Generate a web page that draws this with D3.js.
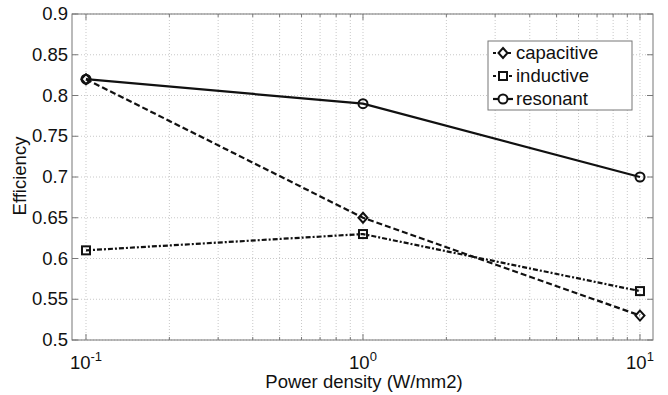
<!DOCTYPE html>
<html><head><meta charset="utf-8">
<script src="https://cdn.jsdelivr.net/npm/d3@7"></script>
<style>body{margin:0;background:#fff}svg{display:block}text{font-family:"Liberation Sans",Arial,sans-serif;fill:#111}</style>
</head><body><svg id="c" width="668" height="395"></svg>
<script>
const xValues = [0.1, 1, 10];
const capacitive = [0.82, 0.65, 0.53];
const inductive = [0.61, 0.63, 0.56];
const resonant = [0.82, 0.79, 0.70];
const yTicks = [0.5, 0.55, 0.6, 0.65, 0.7, 0.75, 0.8, 0.85, 0.9];
const xTickExps = [-1, 0, 1];
const seriesNames = ["capacitive", "inductive", "resonant"];

const svg = d3.select("#c");
const L = 72, R = 653, T = 14, B = 340;
const x = d3.scaleLog().domain([Math.pow(10, -1.0505), Math.pow(10, 1.047)]).range([L, R]);
const y = d3.scaleLinear().domain([0.5, 0.9]).range([B, T]);
const FS = 18.5;

// grid
const minor = [];
for (let e = -1; e <= 1; e++) for (let m = 1; m <= 9; m++) { const v = m * Math.pow(10, e); if (v >= x.domain()[0] && v <= x.domain()[1]) minor.push(v); }
svg.append("g").selectAll("line").data(minor).join("line")
  .attr("x1", d => x(d)).attr("x2", d => x(d)).attr("y1", T).attr("y2", B)
  .attr("stroke", "#c8c8c8").attr("stroke-width", 1).attr("stroke-dasharray", "1,2");
svg.append("g").selectAll("line").data(yTicks).join("line")
  .attr("x1", L).attr("x2", R).attr("y1", d => y(d)).attr("y2", d => y(d))
  .attr("stroke", "#c8c8c8").attr("stroke-width", 1).attr("stroke-dasharray", "1,2");

// frame
svg.append("rect").attr("x", L).attr("y", T).attr("width", R - L).attr("height", B - T)
  .attr("fill", "none").attr("stroke", "#777").attr("stroke-width", 1);

// ticks inward
const tk = svg.append("g").attr("stroke", "#777");
minor.forEach(v => {
  const len = xTickExps.some(e => Math.abs(Math.pow(10, e) - v) < 1e-9) ? 6 : 3;
  tk.append("line").attr("x1", x(v)).attr("x2", x(v)).attr("y1", B).attr("y2", B - len);
  tk.append("line").attr("x1", x(v)).attr("x2", x(v)).attr("y1", T).attr("y2", T + len);
});
yTicks.forEach(v => {
  tk.append("line").attr("x1", L).attr("x2", L + 6).attr("y1", y(v)).attr("y2", y(v));
  tk.append("line").attr("x1", R).attr("x2", R - 6).attr("y1", y(v)).attr("y2", y(v));
});

// y tick labels
svg.append("g").selectAll("text").data(yTicks).join("text")
  .attr("x", L - 4).attr("y", d => y(d) + 6).attr("text-anchor", "end")
  .attr("font-size", FS).text(d => String(d));

// x tick labels
xTickExps.forEach(e => {
  const t = svg.append("text").attr("x", x(Math.pow(10, e))).attr("y", 369)
    .attr("text-anchor", "middle").attr("font-size", FS);
  t.append("tspan").text("10");
  t.append("tspan").attr("dy", -8).attr("font-size", 13).text(String(e));
});

// axis titles
svg.append("text").attr("x", 364).attr("y", 388).attr("text-anchor", "middle").attr("font-size", FS).text("Power density (W/mm2)");
svg.append("text").attr("transform", "translate(26,176) rotate(-90)").attr("text-anchor", "middle").attr("font-size", FS).text("Efficiency");

const styles = [
  { data: capacitive, dash: "6,3", marker: "diamond" },
  { data: inductive, dash: "5,2,2,2", marker: "square" },
  { data: resonant, dash: null, marker: "circle" }
];
function drawMarker(g, type, cx, cy) {
  if (type === "diamond") g.append("path").attr("d", `M${cx},${cy-5}L${cx+4.5},${cy}L${cx},${cy+5}L${cx-4.5},${cy}Z`);
  else if (type === "square") g.append("rect").attr("x", cx - 4).attr("y", cy - 4).attr("width", 8).attr("height", 8);
  else g.append("circle").attr("cx", cx).attr("cy", cy).attr("r", 4.5);
}
const line = d3.line().x((d, i) => x(xValues[i])).y(d => y(d));
styles.forEach(s => {
  svg.append("path").datum(s.data).attr("d", line).attr("fill", "none")
    .attr("stroke", "#111").attr("stroke-width", 2.2).attr("stroke-dasharray", s.dash);
  const g = svg.append("g").attr("fill", "none").attr("stroke", "#111").attr("stroke-width", 2);
  s.data.forEach((d, i) => drawMarker(g, s.marker, x(xValues[i]), y(d)));
});

// legend
const lg = svg.append("g");
lg.append("rect").attr("x", 488).attr("y", 41).attr("width", 144).attr("height", 69)
  .attr("fill", "#fff").attr("stroke", "#777").attr("stroke-width", 1);
styles.forEach((s, i) => {
  const yy = 53 + i * 23;
  lg.append("line").attr("x1", 493).attr("x2", 513).attr("y1", yy).attr("y2", yy)
    .attr("stroke", "#111").attr("stroke-width", 2.2).attr("stroke-dasharray", s.dash ? (i === 0 ? "3,2" : "3,2,1,2") : null);
  const g = lg.append("g").attr("fill", "#fff").attr("stroke", "#111").attr("stroke-width", 2);
  drawMarker(g, s.marker, 503, yy);
  lg.append("text").attr("x", 516).attr("y", yy + 6).attr("font-size", FS).text(seriesNames[i]);
});
</script></body></html>
